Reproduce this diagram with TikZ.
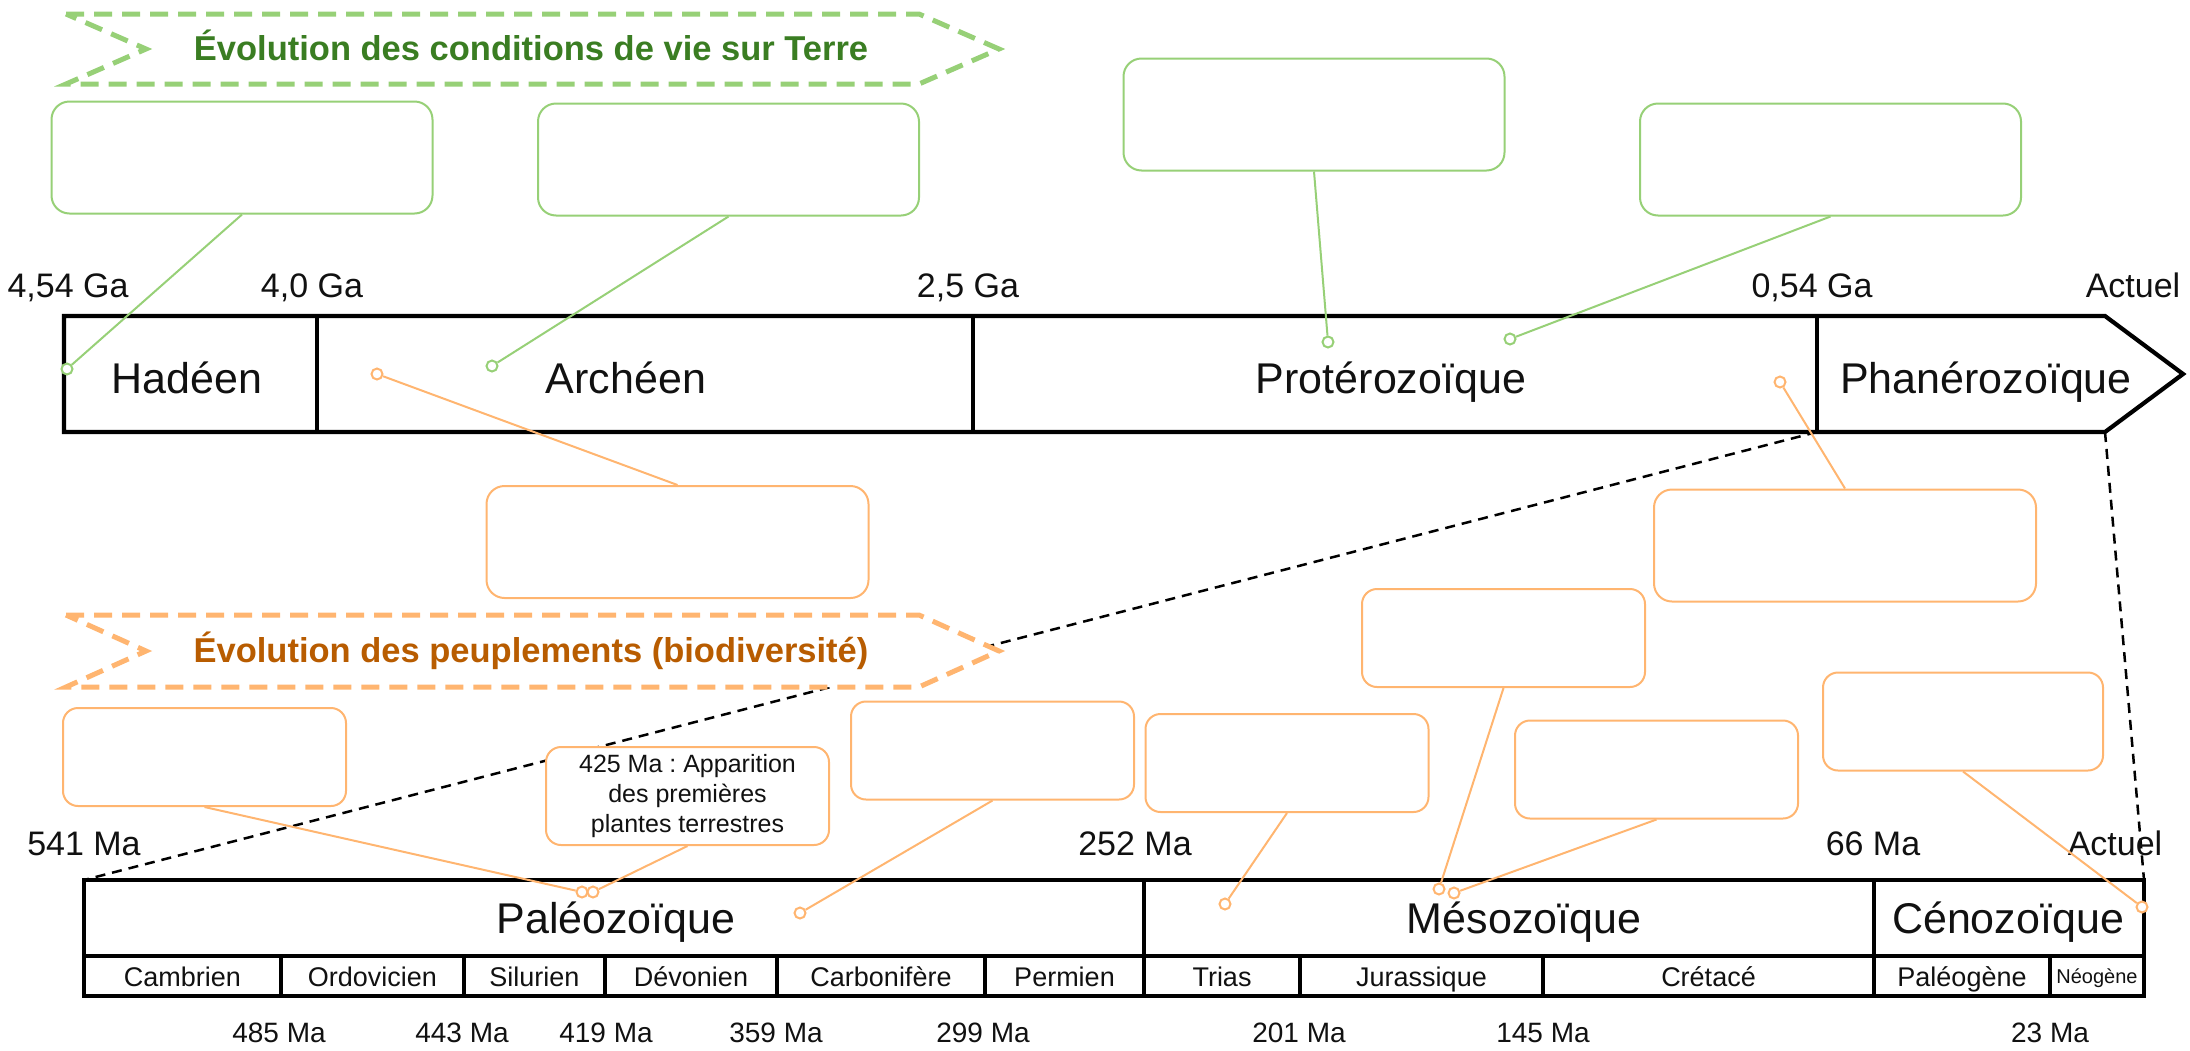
\documentclass[tikz,border=0pt]{standalone}
\usepackage{fontspec}
\setmainfont{Liberation Sans}
\frenchspacing
\definecolor{grn}{HTML}{97D077}
\definecolor{grntxt}{HTML}{3A7D22}
\definecolor{org}{HTML}{FFB570}
\definecolor{orgtxt}{HTML}{B85C00}
\definecolor{txt}{HTML}{111111}
\begin{document}
\begin{tikzpicture}[x=1pt,y=-1pt,
  banner/.style={line width=5pt, dash pattern=on 18pt off 10pt, fill=white, line join=miter},
  bannertxt/.style={font=\fontsize{34.5}{40}\selectfont\bfseries, anchor=base, inner sep=0pt},
  bar/.style={line width=4.2pt, line join=miter, draw=black},
  lowbar/.style={line width=3.8pt, line join=miter, draw=black},
  zoomline/.style={line width=2.5pt, dash pattern=on 10pt off 7pt, draw=black},
  bigtxt/.style={font=\fontsize{43}{50}\selectfont, anchor=base, inner sep=0pt, text=txt},
  datetxt/.style={font=\fontsize{34}{40}\selectfont, anchor=base, inner sep=0pt, text=txt},
  pertxt/.style={font=\fontsize{27}{32}\selectfont, anchor=base, inner sep=0pt, text=txt},
  smalldate/.style={font=\fontsize{28}{32}\selectfont, anchor=base, inner sep=0pt, text=txt},
  gbox/.style={draw=grn, line width=2pt, rounded corners=18pt, fill=white, minimum width=381pt, minimum height=112pt, inner sep=0pt},
  obox/.style={draw=org, line width=2pt, rounded corners=18pt, fill=white, minimum width=382pt, minimum height=112pt, inner sep=0pt},
  sbox/.style={draw=org, line width=2pt, rounded corners=15pt, fill=white, minimum width=283pt, minimum height=98pt, inner sep=0pt},
  gdot/.style={circle, draw=grn, fill=white, line width=2pt, minimum size=11pt, inner sep=0pt},
  odot/.style={circle, draw=org, fill=white, line width=2pt, minimum size=11pt, inner sep=0pt},
  gline/.style={draw=grn, line width=2pt},
  oline/.style={draw=org, line width=2pt}]
\useasboundingbox (0,0) rectangle (2190,1050);

% zoom lines
\coordinate (pz) at (1817,432);
\coordinate (pe) at (2105,432);
\coordinate (lbl) at (84,880);
\coordinate (lbr) at (2144,880);
\draw[zoomline] (pz) -- (lbl);
\draw[zoomline] (pe) -- (lbr);

% banners
\draw[banner, draw=grn] (66,14) -- (919,14) -- (999,49) -- (919,84) -- (66,84) -- (146,49) -- cycle;
\node[bannertxt, text=grntxt] (tcond) at (531,60) {Évolution des conditions de vie sur Terre};
\draw[banner, draw=org] (66,615) -- (919,615) -- (999,651) -- (919,687) -- (66,687) -- (146,651) -- cycle;
\node[bannertxt, text=orgtxt] (tpeup) at (531,662) {Évolution des peuplements (biodiversité)};

% main bar
\draw[bar] (64,316) -- (2105,316) -- (2183,374) -- (2105,432) -- (64,432) -- cycle;
\draw[bar] (317,316) -- (317,432);
\draw[bar] (973,316) -- (973,432);
\draw[bar] (1817,316) -- (1817,432);
\node[bigtxt] (had) at (187,393) {Hadéen};
\node[bigtxt] (arc) at (626,393) {Archéen};
\node[bigtxt] (pro) at (1391,393) {Protérozoïque};
\node[bigtxt] (pha) at (1986,393) {Phanérozoïque};
\node[datetxt] (d454) at (68,297) {4,54 Ga};
\node[datetxt] (d40) at (312,297) {4,0 Ga};
\node[datetxt] (d25) at (968,297) {2,5 Ga};
\node[datetxt] (d054) at (1812,297) {0,54 Ga};
\node[datetxt] (dact) at (2133,297) {Actuel};

% lower bar
\draw[lowbar] (84,880) rectangle (2144,996);
\draw[lowbar] (84,956) -- (2144,956);
\foreach \xx in {1144,1874} \draw[lowbar] (\xx,880) -- (\xx,996);
\foreach \xx in {281,464,605,777,985,1300,1543,2050} \draw[lowbar] (\xx,956) -- (\xx,996);
\node[bigtxt] (pal) at (616,933) {Paléozoïque};
\node[bigtxt] (mes) at (1524,933) {Mésozoïque};
\node[bigtxt] (cen) at (2008,933) {Cénozoïque};
\node[pertxt] (cam) at (182.5,986) {Cambrien};
\node[pertxt] (ord) at (372.5,986) {Ordovicien};
\node[pertxt] (sil) at (534.5,986) {Silurien};
\node[pertxt] (dev) at (691,986) {Dévonien};
\node[pertxt] (car) at (881,986) {Carbonifère};
\node[pertxt] (per) at (1064.5,986) {Permien};
\node[pertxt] (tri) at (1222,986) {Trias};
\node[pertxt] (jur) at (1421.5,986) {Jurassique};
\node[pertxt] (cre) at (1708.5,986) {Crétacé};
\node[pertxt] (pgn) at (1962,986) {Paléogène};
\node[font=\fontsize{20}{24}\selectfont, anchor=base, inner sep=0pt, text=txt] (neo) at (2097,983) {Néogène};
\node[datetxt] (m541) at (84,855) {541 Ma};
\node[datetxt] (m252) at (1135,855) {252 Ma};
\node[datetxt] (m66) at (1873,855) {66 Ma};
\node[datetxt] (mact) at (2115,855) {Actuel};
\node[smalldate] (m485) at (279,1042) {485 Ma};
\node[smalldate] (m443) at (462,1042) {443 Ma};
\node[smalldate] (m419) at (606,1042) {419 Ma};
\node[smalldate] (m359) at (776,1042) {359 Ma};
\node[smalldate] (m299) at (983,1042) {299 Ma};
\node[smalldate] (m201) at (1299,1042) {201 Ma};
\node[smalldate] (m145) at (1543,1042) {145 Ma};
\node[smalldate] (m23) at (2050,1042) {23 Ma};

% green boxes
\node[gbox] (g1) at (242,157.5) {};
\node[gbox] (g2) at (728.5,159.5) {};
\node[gbox] (g3) at (1314,114.5) {};
\node[gbox] (g4) at (1830.5,159.5) {};
% orange boxes (upper)
\node[obox] (o1) at (677.5,542) {};
\node[obox] (o2) at (1845,545.5) {};
% orange boxes (lower)
\node[sbox] (b1) at (204.5,757) {};
\node[sbox, align=center, font=\fontsize{25}{30}\selectfont, text=txt] (b2) at (687.5,796) {425 Ma : Apparition\\des premières\\plantes terrestres};
\node[sbox] (b3) at (992.5,750.5) {};
\node[sbox] (b4) at (1287,763) {};
\node[sbox] (b5) at (1503.5,638) {};
\node[sbox] (b6) at (1656.5,769.5) {};
\node[sbox, minimum width=280pt] (b7) at (1963,721.5) {};

% dots
\node[gdot] (gc1) at (67,369) {};
\node[gdot] (gc2) at (492,366) {};
\node[gdot] (gc3) at (1328,342) {};
\node[gdot] (gc4) at (1510,339) {};
\node[odot] (oc1) at (377,374) {};
\node[odot] (oc2) at (1780,382) {};
\node[odot] (bc1) at (582,892) {};
\node[odot] (bc2) at (593,892) {};
\node[odot] (bc3) at (800,913) {};
\node[odot] (bc4) at (1225,904) {};
\node[odot] (bc5) at (1439,889) {};
\node[odot] (bc6) at (1454,893) {};
\node[odot] (bc7) at (2142,907) {};

% connectors
\draw[gline] (g1.south) -- (gc1);
\draw[gline] (g2.south) -- (gc2);
\draw[gline] (g3.south) -- (gc3);
\draw[gline] (g4.south) -- (gc4);
\draw[oline] (o1.north) -- (oc1);
\draw[oline] (o2.north) -- (oc2);
\draw[oline] (b1.south) -- (bc1);
\draw[oline] (b2.south) -- (bc2);
\draw[oline] (b3.south) -- (bc3);
\draw[oline] (b4.south) -- (bc4);
\draw[oline] (b5.south) -- (bc5);
\draw[oline] (b6.south) -- (bc6);
\draw[oline] (b7.south) -- (bc7);
\end{tikzpicture}
\end{document}
